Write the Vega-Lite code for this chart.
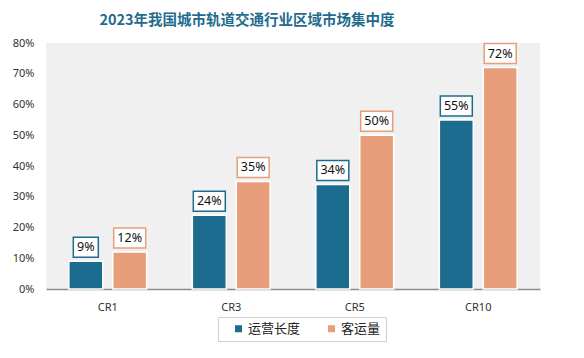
{
  "$schema": "https://vega.github.io/schema/vega-lite/v6.json",
  "width": 494,
  "height": 246,
  "autosize": {"type": "none"},
  "padding": {"left": 46, "top": 43, "right": 44, "bottom": 69},
  "background": "white",
  "title": {
    "text": "2023年我国城市轨道交通行业区域市场集中度",
    "font": "Noto Sans CJK SC",
    "fontSize": 14.5,
    "fontWeight": "bold",
    "color": "#1f6b8e",
    "anchor": "middle",
    "dx": -46,
    "offset": 9
  },
  "config": {
    "view": {"stroke": null, "fill": "#f0f0f0"},
    "font": "Noto Sans",
    "axis": {"labelFont": "Noto Sans", "labelColor": "#333333", "grid": false, "ticks": false, "title": null}
  },
  "data": {
    "values": [
      {"cat": "CR1", "series": "运营长度", "value": 0.09},
      {"cat": "CR1", "series": "客运量", "value": 0.12},
      {"cat": "CR3", "series": "运营长度", "value": 0.24},
      {"cat": "CR3", "series": "客运量", "value": 0.35},
      {"cat": "CR5", "series": "运营长度", "value": 0.34},
      {"cat": "CR5", "series": "客运量", "value": 0.50},
      {"cat": "CR10", "series": "运营长度", "value": 0.55},
      {"cat": "CR10", "series": "客运量", "value": 0.72}
    ]
  },
  "encoding": {
    "x": {
      "field": "cat",
      "type": "nominal",
      "sort": ["CR1", "CR3", "CR5", "CR10"],
      "scale": {"paddingInner": 0.37, "paddingOuter": 0.185},
      "axis": {"labelAngle": 0, "labelFontSize": 11, "labelPadding": 12, "domainColor": "#8c8c8c", "domainWidth": 1.5}
    },
    "xOffset": {
      "field": "series",
      "type": "nominal",
      "sort": ["运营长度", "客运量"],
      "scale": {"paddingInner": 0.227, "paddingOuter": 0}
    },
    "y": {
      "field": "value",
      "type": "quantitative",
      "scale": {"domain": [0, 0.8], "nice": false},
      "axis": {"format": ".0%", "values": [0, 0.1, 0.2, 0.3, 0.4, 0.5, 0.6, 0.7, 0.8], "labelFontSize": 11, "labelPadding": 12, "domain": false}
    }
  },
  "layer": [
    {
      "mark": {"type": "bar", "stroke": "white", "strokeWidth": 1.5},
      "encoding": {
        "color": {
          "field": "series",
          "type": "nominal",
          "scale": {"domain": ["运营长度", "客运量"], "range": ["#1c6c8f", "#e89d7b"]},
          "legend": {
            "title": null,
            "orient": "none",
            "direction": "horizontal",
            "legendX": 172,
            "legendY": 274,
            "symbolType": "square",
            "symbolSize": 49,
            "symbolStrokeWidth": 0,
            "labelFont": "Noto Sans CJK SC",
            "labelFontSize": 13,
            "labelColor": "#222222",
            "labelOffset": 3,
            "columnPadding": 15,
            "padding": 5,
            "symbolOffset": 9,
            "strokeColor": "#d0d0d0",
            "fillColor": "white"
          }
        }
      }
    },
    {
      "mark": {"type": "point", "filled": false, "fill": "white", "fillOpacity": 1, "strokeWidth": 1.5, "opacity": 1, "yOffset": -14, "size": 400},
      "encoding": {
        "shape": {
          "condition": {"test": "datum.value < 0.1", "value": "M-1.25,-1L1.25,-1L1.25,1L-1.25,1Z"},
          "value": "M-1.6,-1L1.6,-1L1.6,1L-1.6,1Z"
        },
        "stroke": {
          "field": "series",
          "type": "nominal",
          "scale": {"domain": ["运营长度", "客运量"], "range": ["#1c6c8f", "#e89d7b"]},
          "legend": null
        }
      }
    },
    {
      "mark": {"type": "text", "dy": -14, "baseline": "middle", "align": "center", "fontSize": 12.5, "color": "#111111", "font": "Noto Sans"},
      "encoding": {
        "text": {"field": "value", "type": "quantitative", "format": ".0%"}
      }
    }
  ]
}
